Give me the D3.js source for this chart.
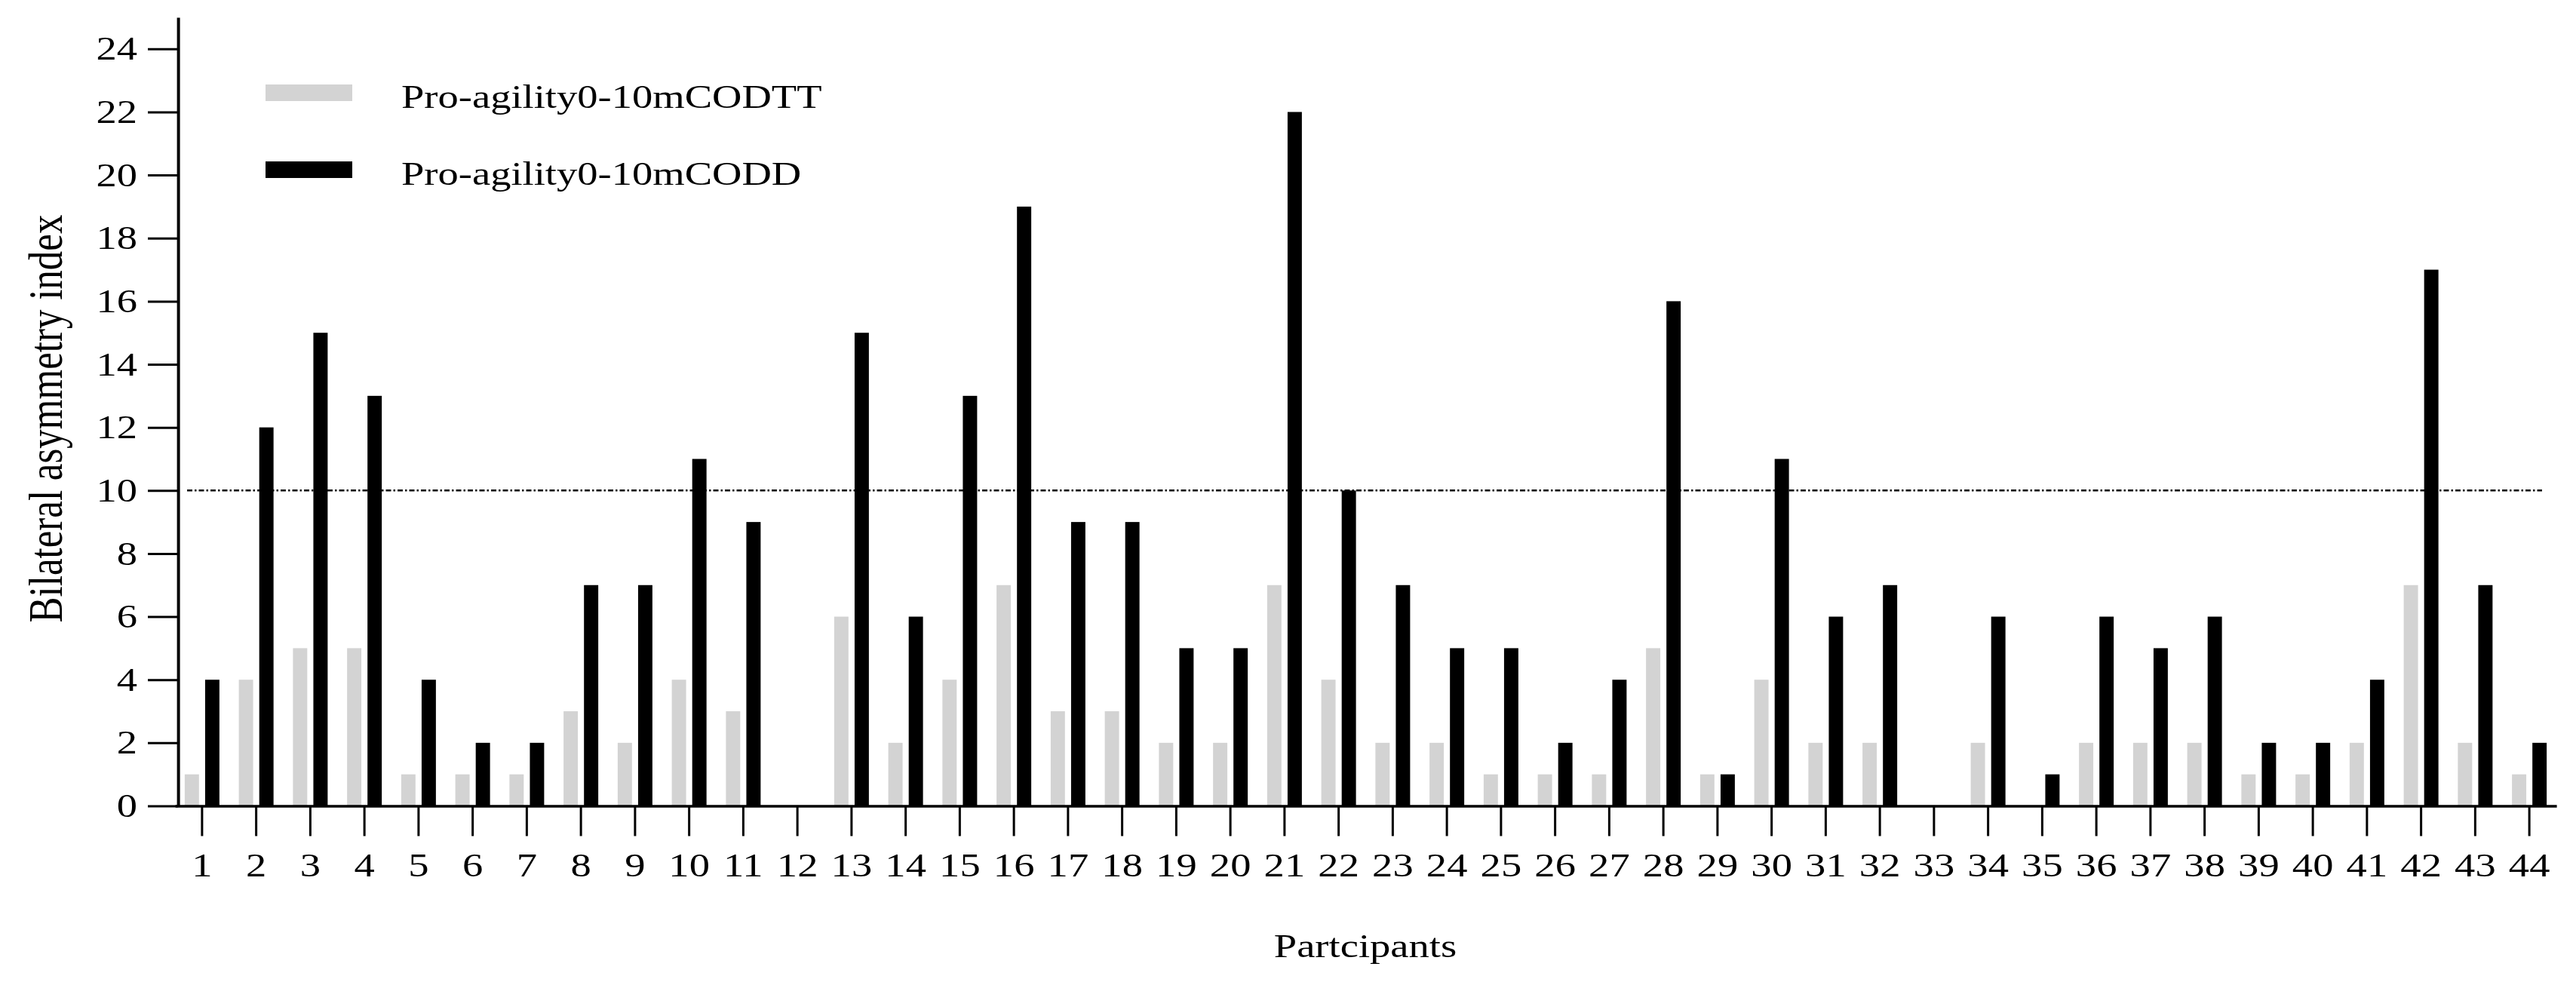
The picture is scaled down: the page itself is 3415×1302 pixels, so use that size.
<!DOCTYPE html>
<html>
<head>
<meta charset="utf-8">
<script src="https://cdn.jsdelivr.net/npm/d3@7"></script>
<style>
  body { margin: 0; background: #fff; }
  svg text { font-family: "Liberation Serif", "Times New Roman", serif; fill: #000; }
</style>
</head>
<body>
<div id="container"></div>
<script>
var participants = ["1", "2", "3", "4", "5", "6", "7", "8", "9", "10",
                    "11", "12", "13", "14", "15", "16", "17", "18", "19", "20",
                    "21", "22", "23", "24", "25", "26", "27", "28", "29", "30",
                    "31", "32", "33", "34", "35", "36", "37", "38", "39", "40",
                    "41", "42", "43", "44"];

var seriesNames = ["Pro-agility0-10mCODTT", "Pro-agility0-10mCODD"];
var seriesColors = ["#d3d3d3", "#000000"];

var codttValues = [1, 4, 5, 5, 1, 1, 1, 3, 2, 4,
                   3, 0, 6, 2, 4, 7, 3, 3, 2, 2,
                   7, 4, 2, 2, 1, 1, 1, 5, 1, 4,
                   2, 2, 0, 2, 0, 2, 2, 2, 1, 1,
                   2, 7, 2, 1];
var coddValues = [4, 12, 15, 13, 4, 2, 2, 7, 7, 11,
                  9, 0, 15, 6, 13, 19, 9, 9, 5, 5,
                  22, 10, 7, 5, 5, 2, 4, 16, 1, 11,
                  6, 7, 0, 6, 1, 6, 5, 6, 2, 2,
                  4, 17, 7, 2];

var yTicks = [0, 2, 4, 6, 8, 10, 12, 14, 16, 18, 20, 22, 24];
var yMax = 25;
var thresholdValue = 10;

var yTitle = "Bilateral asymmetry index";
var xTitle = "Partcipants";

// the original picture is stretched sideways, so draw in a narrower
// viewBox and let the svg stretch it out to the full width
var K = 1.24;
var chartWidth = 3415, chartHeight = 1302;
var viewWidth = chartWidth / K;
function fx(px) { return px / K; }

var svg = d3.select("#container").
append("svg").
attr("width", chartWidth).
attr("height", chartHeight).
attr("viewBox", "0 0 " + viewWidth + " " + chartHeight).
attr("preserveAspectRatio", "none");

var x = d3.scaleBand().
domain(participants).
range([fx(232), fx(3389)]).
padding(0);

var xSub = d3.scaleBand().
domain(seriesNames).
range([-fx(23), fx(23)]).
paddingInner(0.3);

var y = d3.scaleLinear().
domain([0, yMax]).
range([1068.5, 23]);

// bars
var rows = participants.map(function (p, i) {
  return {p: p, vals: [codttValues[i], coddValues[i]]};
});

svg.append("g").
selectAll("g").
data(rows).
enter().
append("g").
attr("transform", function (d) {return "translate(" + (x(d.p) + x.bandwidth() / 2) + ",0)";}).
selectAll("rect").
data(function (d) {
  return seriesNames.map(function (s, j) {return {s: s, v: d.vals[j], c: seriesColors[j]};});
}).
enter().
append("rect").
attr("x", function (d) {return xSub(d.s);}).
attr("width", xSub.bandwidth()).
attr("y", function (d) {return y(d.v);}).
attr("height", function (d) {return y(0) - y(d.v);}).
attr("fill", function (d) {return d.c;});

// threshold line at 10 (dash-dot)
svg.append("line").
attr("x1", fx(248)).
attr("x2", fx(3370)).
attr("y1", y(thresholdValue)).
attr("y2", y(thresholdValue)).
attr("stroke", "#000").
attr("stroke-width", 2.6).
attr("stroke-dasharray", [fx(7), fx(3), fx(2.5), fx(3)].join(","));

// y axis
var yAxis = d3.axisLeft(y).
tickValues(yTicks).
tickSize(fx(40)).
tickSizeOuter(0).
tickPadding(fx(14));
var yG = svg.append("g").
attr("transform", "translate(" + fx(236) + ",0)").
call(yAxis).
attr("font-size", 44);
yG.select(".domain").attr("stroke-width", fx(4));
yG.selectAll(".tick line").attr("stroke-width", 3);

// x axis
var xAxis = d3.axisBottom(x).
tickSize(40).
tickSizeOuter(0).
tickPadding(22);
var xG = svg.append("g").
attr("transform", "translate(0," + y(0) + ")").
call(xAxis).
attr("font-size", 44);
xG.select(".domain").attr("stroke-width", 3.5);
xG.selectAll(".tick line").attr("stroke-width", fx(3));

// legend
var legend = svg.append("g").attr("class", "legend");
var legendRows = [112, 214];
legend.selectAll("rect").
data(seriesNames).
enter().
append("rect").
attr("x", fx(352)).
attr("y", function (d, i) {return legendRows[i];}).
attr("width", fx(115)).
attr("height", 22).
attr("fill", function (d, i) {return seriesColors[i];});
legend.selectAll("text").
data(seriesNames).
enter().
append("text").
attr("x", fx(532)).
attr("y", function (d, i) {return legendRows[i] + 31;}).
attr("font-size", 44).
text(function (d) {return d;});

// axis titles
svg.append("text").
attr("x", fx(1810)).
attr("y", 1269).
attr("text-anchor", "middle").
attr("font-size", 44).
text(xTitle);

svg.append("text").
attr("transform", "translate(" + fx(82) + ",555) rotate(-90)").
attr("text-anchor", "middle").
attr("font-size", 51).
text(yTitle);
</script>
</body>
</html>
